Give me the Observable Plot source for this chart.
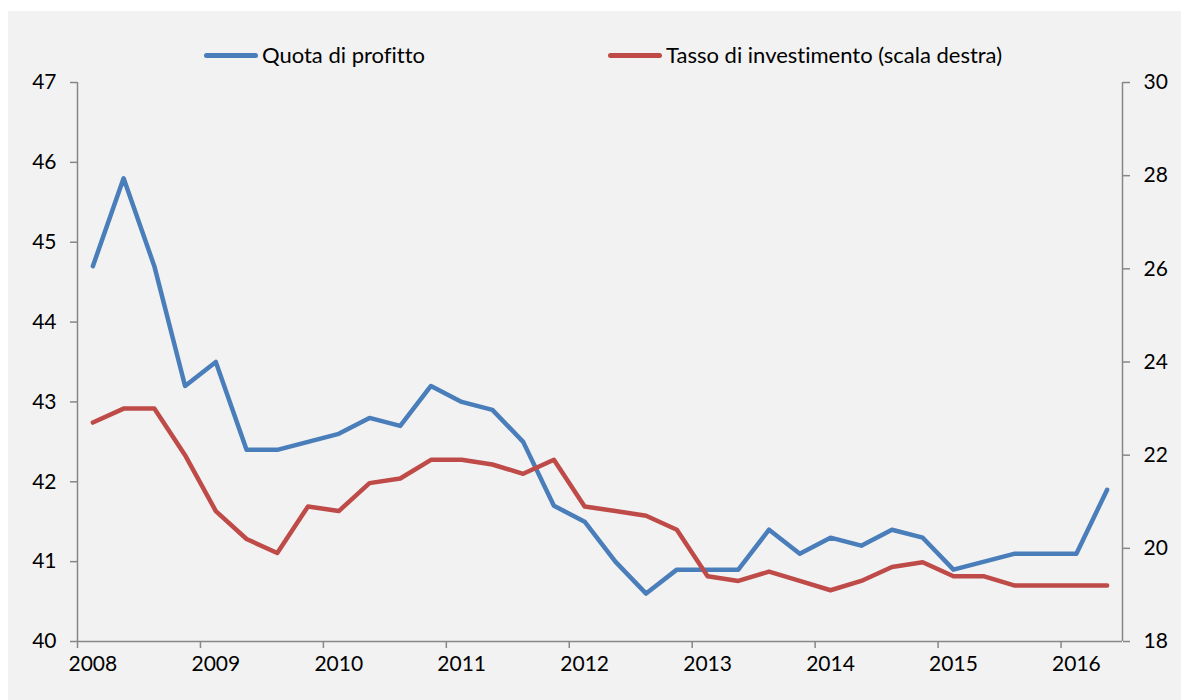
<!DOCTYPE html>
<html>
<head>
<meta charset="utf-8">
<script src="https://cdn.jsdelivr.net/npm/d3@7"></script>
<script src="https://cdn.jsdelivr.net/npm/@observablehq/plot@0.6"></script>
<style>
  html, body { margin: 0; padding: 0; background: #ffffff; }
  #frame {
    position: absolute; left: 8px; top: 11px; width: 1173px; height: 689px;
    background: #f2f2f2; font-family: Lato, "Open Sans", sans-serif; color: #000;
    font-variant-ligatures: none; font-feature-settings: "liga" 0, "clig" 0;
  }
  #legend { position: relative; height: 40px; }
  .item { position: absolute; top: 31px; display: flex; align-items: center; font-size: 22px; line-height: 26px; }
  .swatch { width: 54px; height: 5px; border-radius: 3px; margin-right: 4px; }
  svg { display: block; }
</style>
</head>
<body>
<div id="frame">
  <div id="legend"></div>
  <div id="chart"></div>
</div>
<script>
// Years shown on the axis and quarters of each year
const years = [2008, 2009, 2010, 2011, 2012, 2013, 2014, 2015, 2016];
const quartersPerYear = ["Q1", "Q2", "Q3", "Q4"];
// Series names and colours
const seriesNames = ["Quota di profitto", "Tasso di investimento (scala destra)"];
const seriesColors = ["#4a7ebb", "#be4b48"];
// Quota di profitto (left axis), 2008Q1 - 2016Q2
const profitShare = [
  44.7, 45.8, 44.7, 43.2,
  43.5, 42.4, 42.4, 42.5,
  42.6, 42.8, 42.7, 43.2,
  43.0, 42.9, 42.5, 41.7,
  41.5, 41.0, 40.6, 40.9,
  40.9, 40.9, 41.4, 41.1,
  41.3, 41.2, 41.4, 41.3,
  40.9, 41.0, 41.1, 41.1,
  41.1, 41.9
];
// Tasso di investimento (right axis), 2008Q1 - 2016Q2
const investRate = [
  22.7, 23.0, 23.0, 22.0,
  20.8, 20.2, 19.9, 20.9,
  20.8, 21.4, 21.5, 21.9,
  21.9, 21.8, 21.6, 21.9,
  20.9, 20.8, 20.7, 20.4,
  19.4, 19.3, 19.5, 19.3,
  19.1, 19.3, 19.6, 19.7,
  19.4, 19.4, 19.2, 19.2,
  19.2, 19.2
];
// Axis ticks
const leftTicks = [40, 41, 42, 43, 44, 45, 46, 47];
const rightTicks = [18, 20, 22, 24, 26, 28, 30];

// Quarter positions (mid-quarter, in fractional years)
const quarters = years.flatMap(y => quartersPerYear.map((q, i) => ({label: y + q, t: y + (i + 0.5) / 4})))
  .slice(0, profitShare.length);

// Map right-axis values onto the left scale
const L0 = 40, L1 = 47, R0 = 18, R1 = 30;
const toLeft = v => L0 + (v - R0) * (L1 - L0) / (R1 - R0);
const toRight = v => R0 + (v - L0) * (R1 - R0) / (L1 - L0);

const rows = [
  ...quarters.map((q, i) => ({t: q.t, v: profitShare[i], s: seriesNames[0]})),
  ...quarters.map((q, i) => ({t: q.t, v: toLeft(investRate[i]), s: seriesNames[1]}))
];

const axisColor = "#878787";
const xEnd = years[years.length - 1] + 0.5;

const plot = Plot.plot({
  width: 1173,
  height: 649,
  marginLeft: 69,
  marginRight: 59,
  marginTop: 31,
  marginBottom: 59,
  style: {background: "transparent", fontFamily: "Lato, 'Open Sans', sans-serif", fontSize: "21px", color: "#000"},
  x: {domain: [years[0], xEnd], label: null},
  y: {domain: [L0, L1], label: null},
  color: {domain: seriesNames, range: seriesColors},
  marks: [
    Plot.axisX({ticks: years, tickSize: 7, tickFormat: () => "", stroke: axisColor, strokeWidth: 1.5, label: null}),
    Plot.axisX({ticks: years.map(y => y + 0.125), tickSize: 0, tickPadding: 15, tickFormat: d => String(Math.floor(d)), fill: "#000", label: null}),
    Plot.axisY({ticks: leftTicks, tickSize: 7, tickPadding: 14, tickFormat: d => String(Math.round(d)), stroke: axisColor, strokeWidth: 1.5, fill: "#000", label: null}),
    Plot.axisY({anchor: "right", ticks: rightTicks.map(toLeft), tickSize: 7, tickPadding: 14, tickFormat: d => String(Math.round(toRight(d))), stroke: axisColor, strokeWidth: 1.5, fill: "#000", label: null}),
    Plot.ruleY([L0], {stroke: axisColor, strokeWidth: 1.5}),
    Plot.ruleX([years[0]], {stroke: axisColor, strokeWidth: 1.5}),
    Plot.ruleX([xEnd], {stroke: axisColor, strokeWidth: 1.5}),
    Plot.line(rows, {x: "t", y: "v", z: "s", stroke: "s", strokeWidth: 4.5, strokeLinecap: "round", strokeLinejoin: "round"})
  ]
});
document.getElementById("chart").appendChild(plot);

// Legend
const legend = document.getElementById("legend");
const legendX = [196, 600];
seriesNames.forEach((name, i) => {
  const item = document.createElement("div");
  item.className = "item";
  item.style.left = legendX[i] + "px";
  const sw = document.createElement("span");
  sw.className = "swatch";
  sw.style.background = seriesColors[i];
  const tx = document.createElement("span");
  tx.textContent = name;
  item.appendChild(sw);
  item.appendChild(tx);
  legend.appendChild(item);
});
</script>
</body>
</html>
